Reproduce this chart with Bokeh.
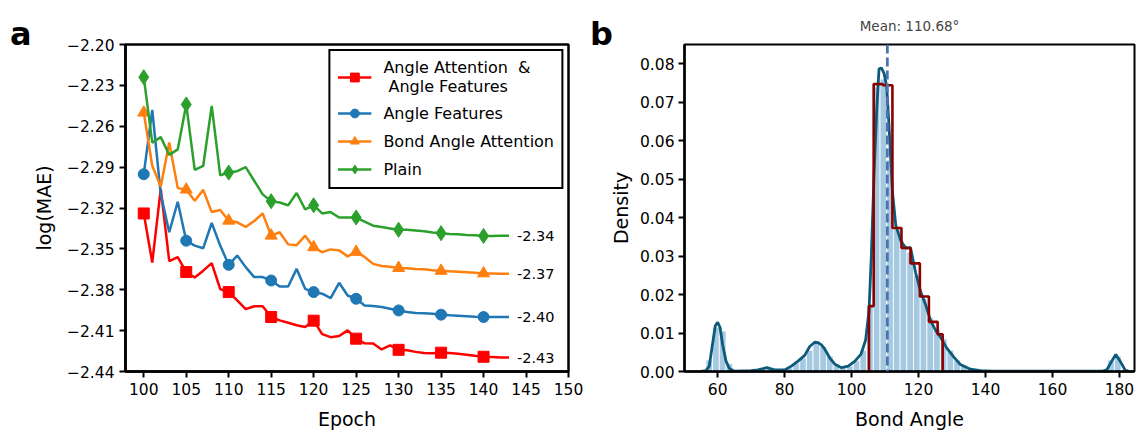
from bokeh.plotting import figure
from bokeh.layouts import row
from bokeh.models import (Range1d, FixedTicker, CustomJSTickFormatter, NumeralTickFormatter,
                          Legend, LegendItem, Span, Div)
from bokeh.core.properties import value
from bokeh.embed import file_html
from bokeh.resources import INLINE

FONT = "DejaVu Sans"

# ---------------- panel a data ----------------
epochs = list(range(100, 144))
attn_feat = [-2.324, -2.360, -2.306, -2.359, -2.356, -2.367, -2.371, -2.366, -2.3605, -2.3795,
             -2.3817, -2.3878, -2.3942, -2.3921, -2.3921, -2.400, -2.4025, -2.4042, -2.4061, -2.4074,
             -2.4027, -2.4126, -2.4148, -2.414, -2.4098, -2.4159, -2.4193, -2.4195, -2.4238, -2.4208,
             -2.4241, -2.4244, -2.4256, -2.4265, -2.4266, -2.4262, -2.4265, -2.427, -2.4277, -2.4285,
             -2.4292, -2.4294, -2.4298, -2.4298]
ang_feat = [-2.2952, -2.248, -2.3098, -2.3378, -2.3154, -2.344, -2.3476, -2.3495, -2.331, -2.3476,
            -2.3617, -2.3549, -2.3634, -2.3707, -2.3707, -2.3732, -2.3776, -2.3776, -2.3647, -2.3793,
            -2.3817, -2.3829, -2.3861, -2.3749, -2.3842, -2.3866, -2.3915, -2.3919, -2.3927, -2.3939,
            -2.3952, -2.3963, -2.3971, -2.3972, -2.3976, -2.3983, -2.3987, -2.399, -2.3994, -2.3998,
            -2.400, -2.400, -2.400, -2.400]
bond_attn = [-2.250, -2.289, -2.3043, -2.272, -2.3054, -2.3065, -2.3147, -2.3067, -2.323, -2.3215,
             -2.3293, -2.3305, -2.3339, -2.3295, -2.324, -2.3403, -2.3378, -2.3467, -2.3473, -2.3403,
             -2.3488, -2.3524, -2.3504, -2.3511, -2.3555, -2.3522, -2.3559, -2.361, -2.3626, -2.3632,
             -2.364, -2.3643, -2.3647, -2.365, -2.3657, -2.3661, -2.3665, -2.3668, -2.3672, -2.3676,
             -2.368, -2.3681, -2.3682, -2.3682]
plain = [-2.224, -2.272, -2.268, -2.281, -2.277, -2.244, -2.292, -2.289, -2.245, -2.296,
         -2.294, -2.293, -2.290, -2.300, -2.310, -2.315, -2.316, -2.318, -2.309, -2.321,
         -2.318, -2.324, -2.323, -2.327, -2.327, -2.327, -2.330, -2.333, -2.334, -2.335,
         -2.336, -2.336, -2.3365, -2.337, -2.338, -2.3385, -2.339, -2.3393, -2.3398, -2.340,
         -2.3405, -2.3405, -2.3403, -2.3403]
series_names = ["Angle Attention  &\n Angle Features", "Angle Features", "Bond Angle Attention", "Plain"]
end_labels = ["-2.43", "-2.40", "-2.37", "-2.34"]
y_ticks_a = [-2.44, -2.41, -2.38, -2.35, -2.32, -2.29, -2.26, -2.23, -2.20]
x_ticks_a = [100, 105, 110, 115, 120, 125, 130, 135, 140, 145, 150]
marker_every = 5

# ---------------- panel b data ----------------
hist_edges = [56.5 + 2 * i for i in range(64)]
hist_density = [0.003, 0.0115, 0.0105, 0.002, 0.0001, 0.0001, 0.0002, 0.0003, 0.0006, 0.0007,
                0.0003, 0.0004, 0.001, 0.0022, 0.0035, 0.0055, 0.0075, 0.0065, 0.004, 0.0015,
                0.0009, 0.0014, 0.0028, 0.0055, 0.017, 0.074, 0.076, 0.055, 0.037, 0.033,
                0.031, 0.025, 0.019, 0.014, 0.011, 0.0085, 0.0055, 0.003, 0.0015, 0.0007,
                0.0003, 0.0001, 0.0, 0.0, 0.0, 0.0, 0.0, 0.0, 0.0, 0.0,
                0.0, 0.0, 0.0, 0.0, 0.0, 0.0, 0.0, 0.0, 0.0, 0.0,
                0.003, 0.004, 0.0005]
kde_x = [55, 56.5, 57.5, 58.5, 59.3, 60, 60.7, 61.5, 62.5, 63.5, 65, 70, 72, 74.7, 77, 80, 82, 84,
         86, 87.5, 89, 90, 91, 92, 93.5, 95, 97, 99, 101, 102.8, 104.2, 105.2, 105.9, 106.7, 107.5,
         108.2, 108.9, 109.7, 110.5, 111.2, 112.2, 113.2, 114.6, 116.1, 117.6, 119.1, 120.6, 122.1,
         123.6, 125.1, 126.5, 128.5, 130.5, 132.5, 135.5, 138.5, 142, 150, 160, 170, 175, 176.2,
         177.7, 178.9, 180.2, 181.7, 183]
kde_y = [0.0, 0.0002, 0.0014, 0.0073, 0.0119, 0.0128, 0.0115, 0.0069, 0.0027, 0.0008, 0.0001,
         0.0002, 0.0004, 0.001, 0.0004, 0.0004, 0.0014, 0.0027, 0.0042, 0.0065, 0.0076, 0.0075,
         0.0069, 0.0058, 0.0035, 0.0019, 0.001, 0.0014, 0.0027, 0.0045, 0.0082, 0.0157, 0.030,
         0.051, 0.0678, 0.0787, 0.0789, 0.0775, 0.0740, 0.0636, 0.0468, 0.038, 0.0342, 0.0321,
         0.0322, 0.0258, 0.0208, 0.0174, 0.0132, 0.0107, 0.009, 0.006, 0.0038, 0.0018, 0.0006,
         0.0002, 0.0001, 0.0001, 0.0001, 0.0001, 0.0001, 0.0004, 0.0027, 0.0044, 0.0027, 0.0004, 0.0]
sub_edges = [105.2, 106.6, 109.4, 112.2, 114.9, 117.6, 120.4, 123.1, 125.7, 127.2]
sub_density = [0.017, 0.0747, 0.0744, 0.0373, 0.0321, 0.0281, 0.0195, 0.0129, 0.0097]
mean_angle = 110.68
x_ticks_b = [60, 80, 100, 120, 140, 160, 180]
y_ticks_b = [0.0, 0.01, 0.02, 0.03, 0.04, 0.05, 0.06, 0.07, 0.08]
panel_letters = ["a", "b"]

TICK = "15.5px"
ALAB = "19px"


def style_axes(p):
    for ax in (p.xaxis[0], p.yaxis[0]):
        ax.axis_line_width = 2.5
        ax.axis_line_color = "black"
        ax.major_tick_line_width = 2
        ax.major_tick_out = 6
        ax.major_tick_in = 0
        ax.minor_tick_line_color = None
        ax.major_label_text_font = FONT
        ax.major_label_text_font_size = TICK
        ax.major_label_text_color = "black"
        ax.axis_label_text_font = FONT
        ax.axis_label_text_font_size = ALAB
        ax.axis_label_text_font_style = "normal"
        ax.axis_label_text_color = "black"
    p.xgrid.grid_line_color = None
    p.ygrid.grid_line_color = None
    p.outline_line_color = "black"
    p.outline_line_width = 2.5
    p.outline_line_alpha = 1.0
    p.border_fill_alpha = 0.0


def letter_div(txt, width, pad_left):
    html = ('<div style="font-family:\'DejaVu Sans\';font-weight:bold;font-size:32px;'
            'line-height:32px;padding-top:18px;padding-left:%dpx;color:black;'
            'white-space:nowrap;overflow:visible;">%s</div>' % (pad_left, txt))
    return Div(text=html, width=width, height=432, margin=0, styles={"overflow": "visible", "z-index": "5"})


# ---------------- panel a ----------------
xr1 = Range1d(97.85, 150)
yr1 = Range1d(-2.44, -2.20)
p1 = figure(width=562, height=432, x_range=xr1, y_range=yr1,
            output_backend="svg", toolbar_location=None,
            min_border_left=97, min_border_right=22, min_border_top=44, min_border_bottom=59)
style_axes(p1)
p1.xaxis.ticker = FixedTicker(ticks=x_ticks_a)
p1.yaxis.ticker = FixedTicker(ticks=y_ticks_a)
p1.yaxis.formatter = CustomJSTickFormatter(code="return (tick < 0 ? '\u2212' : '') + Math.abs(tick).toFixed(2);")
p1.xaxis.axis_label = "Epoch"
p1.yaxis.axis_label = "log(MAE)"
p1.xaxis.axis_label_standoff = 10
p1.yaxis.axis_label_standoff = 9

colors = ["#ff0000", "#1f77b4", "#ff7f0e", "#2ca02c"]
markers = ["square", "circle", "triangle", "diamond"]
msizes = [11, 11, 12, 15]
all_series = [attn_feat, ang_feat, bond_attn, plain]
items = []
for ys, c, m, ms, name, lab in zip(all_series, colors, markers, msizes, series_names, end_labels):
    lr = p1.line(epochs, ys, line_color=c, line_width=2.5)
    mx = [e for e in epochs if (e - epochs[0]) % marker_every == 0 and e <= 140]
    my = [ys[epochs.index(e)] for e in mx]
    sr = p1.scatter(mx, my, marker=m, size=ms, fill_color=c, line_color=c)
    items.append(LegendItem(label=name, renderers=[lr, sr]))
    p1.text([epochs[-1]], [ys[-1]], text=[lab], x_offset=8, text_baseline="middle", text_align="left",
            text_font=value(FONT), text_font_size="14.5px", text_color="black")

legend = Legend(items=items, location="top_right", margin=5, padding=7, spacing=6,
                glyph_width=34, glyph_height=22, label_height=22, label_standoff=12,
                label_text_font=FONT, label_text_font_size="16px", label_text_color="black",
                border_line_color="black", border_line_width=2, border_line_alpha=1.0,
                background_fill_alpha=1.0)
p1.add_layout(legend)

# ---------------- panel b ----------------
xr2 = Range1d(50.1, 184.5)
yr2 = Range1d(0, 0.085)
p2 = figure(width=530, height=432, x_range=xr2, y_range=yr2,
            output_backend="svg", toolbar_location=None,
            min_border_left=77, min_border_right=2, min_border_top=38, min_border_bottom=56,
            title="Mean: %.2f\u00b0" % mean_angle)
style_axes(p2)
p2.outline_line_width = 2
p2.title.align = "center"
p2.title.text_font = FONT
p2.title.text_font_size = "13.5px"
p2.title.text_font_style = "normal"
p2.title.standoff = 21
p2.xaxis.ticker = FixedTicker(ticks=x_ticks_b)
p2.yaxis.ticker = FixedTicker(ticks=y_ticks_b)
p2.yaxis.formatter = NumeralTickFormatter(format="0.00")
p2.xaxis.axis_label = "Bond Angle"
p2.yaxis.axis_label = "Density"
p2.xaxis.axis_label_standoff = 10
p2.yaxis.major_label_standoff = 4
p2.yaxis.axis_label_standoff = 5

lefts = hist_edges[:len(hist_density)]
rights = hist_edges[1:len(hist_density) + 1]
p2.quad(left=lefts, right=rights, bottom=0, top=hist_density,
        fill_color="#1f77b4", fill_alpha=0.4, line_color="white", line_width=0.8)
p2.line(kde_x, kde_y, line_color="#0d5a7a", line_width=2.8)

sx, sy = [sub_edges[0]], [0.0]
for i, h in enumerate(sub_density):
    sx += [sub_edges[i], sub_edges[i + 1]]
    sy += [h, h]
sx.append(sub_edges[-1])
sy.append(0.0)
p2.line(sx, sy, line_color="#8b0000", line_width=2.6)
p2.add_layout(Span(location=mean_angle, dimension="height", line_color="#4c72b0",
                   line_width=2.8, line_dash="9 4"))

layout = row(letter_div(panel_letters[0], 28, 10), p1, letter_div(panel_letters[1], 16, 0), p2)
open("out.html", "w").write(file_html(layout, INLINE))
